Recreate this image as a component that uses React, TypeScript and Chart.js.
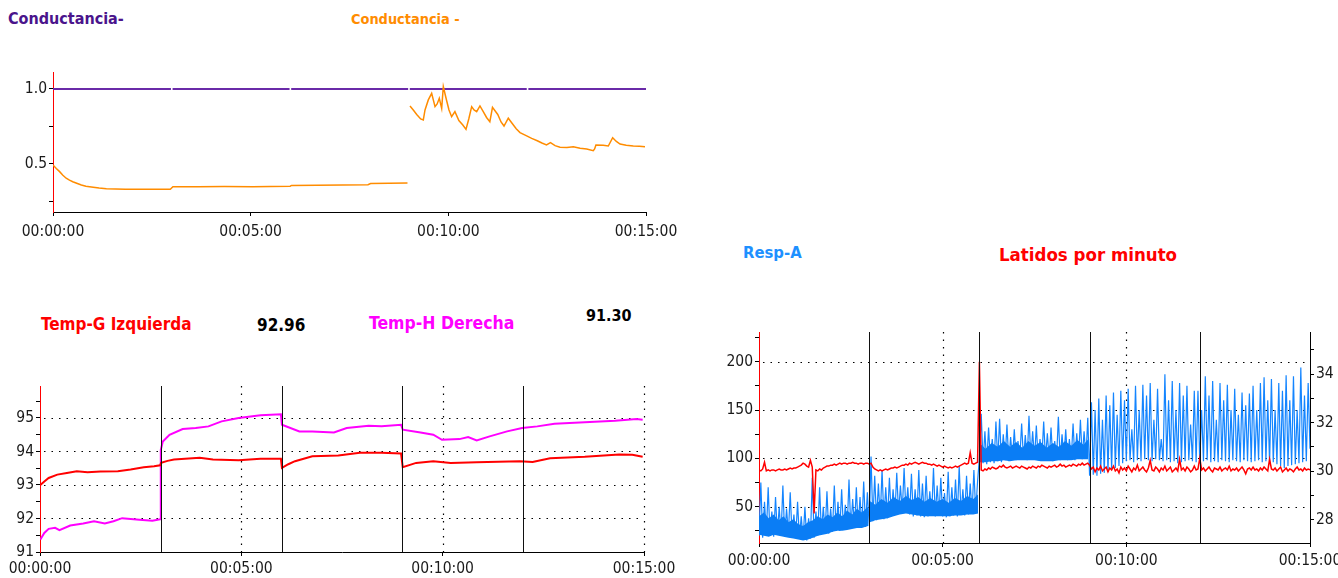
import React, { useEffect, useRef } from 'react';
import { Chart, registerables } from 'chart.js';

Chart.register(...registerables);

// ---------------- DATA ----------------
// shared time axis (seconds)
const timeTicks = [0, 300, 600, 900];

// Panel 1 – Conductancia
const condPurple: [number, number | null][] = [
  [0, 1], [179, 1], [180, null], [181.5, 1], [359, 1], [360, null], [361.5, 1],
  [539, 1], [540, null], [541.5, 1], [719, 1], [720, null], [721.5, 1], [900, 1],
];
const condOrange: [number, number | null][] = [
  [0, 0.493], [5, 0.47], [10, 0.449], [15, 0.425], [20, 0.405], [25, 0.392], [30, 0.382],
  [37, 0.37], [43, 0.36], [50, 0.352], [61, 0.345], [70, 0.34], [81, 0.335], [95, 0.333],
  [110, 0.331], [127, 0.331], [150, 0.331], [178, 0.332], [182, 0.349], [220, 0.349],
  [260, 0.35], [303, 0.349], [330, 0.35], [360, 0.352], [362, 0.357], [400, 0.358],
  [440, 0.36], [478, 0.362], [482, 0.37], [510, 0.372], [538, 0.373],
  [540, null],
  [541.8, 0.887], [546.8, 0.86], [552, 0.83], [558, 0.8], [562, 0.793], [564.6, 0.86],
  [569.6, 0.927], [574.7, 0.971], [579.8, 0.882], [583, 0.9], [586.3, 0.938], [589.9, 0.871],
  [592.4, 1.015], [597, 0.93], [601, 0.86], [605, 0.815], [610, 0.849], [616, 0.79],
  [622, 0.76], [626.8, 0.731], [631, 0.8], [635.4, 0.882], [639, 0.86], [643, 0.849],
  [648, 0.887], [653, 0.849], [658, 0.81], [663, 0.782], [667, 0.878], [675, 0.83],
  [680, 0.78], [684.5, 0.753], [691, 0.805], [697, 0.77], [703, 0.735], [708.8, 0.709],
  [718.9, 0.687], [726.5, 0.671], [735, 0.655], [742, 0.64], [749, 0.627], [755, 0.642],
  [762, 0.622], [769.5, 0.611], [780, 0.61], [789.7, 0.615], [800, 0.605], [810, 0.6],
  [820, 0.589], [822, 0.6], [824, 0.627], [835, 0.625], [842.8, 0.62], [849.4, 0.675],
  [855, 0.65], [860.6, 0.633], [870, 0.625], [880.7, 0.62], [890, 0.618], [898.5, 0.615],
];
const condYTicks = [0.25, 0.5, 0.75, 1.0];
const condYLabels = [0.5, 1.0];

// Panel 2 – Temperaturas
const tempG: [number, number][] = [
  [0, 92.99], [6, 93.1], [12.9, 93.21], [25.8, 93.31], [40, 93.36], [54.8, 93.41],
  [70.9, 93.38], [90, 93.4], [116, 93.41], [135, 93.46], [154.6, 93.53], [170, 93.56],
  [179, 93.59], [180.5, 93.66], [190, 93.72], [199.7, 93.76], [238, 93.81], [257.7, 93.76],
  [296, 93.74], [328.6, 93.78], [359, 93.78], [360.5, 93.51], [370, 93.62], [380, 93.71],
  [405.8, 93.86], [444.5, 93.88], [476.7, 93.96], [509, 93.96], [538, 93.94], [540.5, 93.53],
  [560.5, 93.66], [586, 93.71], [612, 93.66], [650.7, 93.68], [715, 93.71], [734, 93.69],
  [760, 93.8], [811.7, 93.84], [863, 93.91], [882.6, 93.9], [898, 93.84],
];
const tempH: [number, number][] = [
  [0.5, 91.37], [6.4, 91.57], [12.9, 91.69], [22.5, 91.72], [29, 91.65], [45, 91.79],
  [64.4, 91.85], [80.5, 91.92], [96.6, 91.85], [109.5, 91.92], [122.4, 92.01], [148, 91.96],
  [167.5, 91.93], [179, 91.98], [180, 94.05], [183, 94.3], [193, 94.5], [212.6, 94.67],
  [232, 94.7], [251, 94.75], [270.6, 94.9], [296, 95.0], [328.6, 95.08], [359, 95.11],
  [360.5, 94.8], [386.5, 94.6], [405.8, 94.6], [438, 94.57], [457, 94.7], [489.7, 94.77],
  [509, 94.75], [538, 94.8], [540.5, 94.65], [567, 94.57], [586, 94.5], [599, 94.35],
  [625, 94.37], [638, 94.43], [650.7, 94.33], [670, 94.45], [696, 94.6], [718.5, 94.7],
  [741, 94.75], [766.6, 94.83], [811.7, 94.87], [857, 94.92], [889, 94.97], [898, 94.95],
];
const tempYTicks = [91, 91.5, 92, 92.5, 93, 93.5, 94, 94.5, 95, 95.5];
const tempYLabels = [91, 92, 93, 94, 95];

// Panel 3 – Resp-A / Latidos por minuto (one sample every 3 s)
const SAMPLE_STEP = 3;
const respValues = [
  20, 75, 18, 55, 22, 70, 20, 45, 19, 60,
  21, 50, 20, 72, 19, 48, 22, 65, 20, 42,
  18, 55, 17, 40, 16, 50, 15, 38, 17, 80,
  18, 45, 20, 70, 22, 50, 23, 66, 22, 48,
  24, 72, 25, 55, 25, 68, 26, 52, 27, 78,
  27, 58, 28, 70, 28, 60, 29, 76, 29, 65,
  30, 102, 35, 82, 36, 74, 38, 88, 37, 70,
  38, 80, 40, 68, 42, 85, 43, 72, 45, 90,
  44, 70, 42, 84, 40, 68, 41, 88, 40, 74,
  39, 82, 40, 66, 41, 90, 40, 72, 41, 80,
  40, 64, 39, 86, 40, 70, 41, 78, 40, 92,
  42, 68, 41, 82, 42, 74, 43, 88, 44, 76,
  100, 146, 95, 128, 94, 132, 96, 120, 95, 138,
  97, 141, 96, 125, 98, 135, 97, 122, 99, 130,
  98, 118, 100, 136, 99, 124, 98, 144, 100, 128,
  99, 134, 98, 120, 100, 138, 99, 126, 98, 132,
  97, 118, 99, 143, 98, 125, 99, 130, 98, 120,
  99, 136, 98, 126, 100, 140, 99, 128, 100, 142,
  82, 158, 83, 150, 82, 162, 84, 140, 85, 165,
  86, 155, 88, 168, 90, 145, 92, 170, 95, 160,
  97, 172, 98, 130, 96, 175, 98, 150, 97, 176,
  99, 165, 98, 178, 97, 140, 99, 172, 98, 120,
  97, 187, 98, 160, 96, 180, 97, 150, 95, 178,
  96, 165, 97, 175, 98, 135, 97, 170, 96, 170,
  95, 150, 97, 185, 98, 165, 96, 180, 97, 140,
  96, 178, 98, 160, 97, 176, 96, 150, 98, 172,
  97, 145, 96, 168, 98, 155, 97, 167, 96, 175,
  97, 150, 98, 178, 96, 184, 97, 160, 95, 182,
  96, 150, 94, 178, 92, 170, 90, 186, 92, 160,
  93, 185, 94, 150, 95, 194, 96, 165, 97, 178,
  110,
];
// dense part of the respiration trace: [time s, lower edge, upper edge of the solid band]
const respBand1: [number, number, number][] = [
  [0, 21, 40], [8, 20, 44], [16, 19, 38], [24, 21, 42], [32, 20, 36], [40, 19, 40],
  [48, 18, 34], [56, 17, 37], [64, 16, 32], [72, 15, 30], [80, 16, 34], [88, 18, 36],
  [96, 20, 40], [104, 21, 37], [112, 22, 42], [120, 24, 39], [128, 25, 44], [136, 25, 40],
  [144, 26, 46], [152, 27, 42], [160, 28, 48], [168, 28, 44], [178, 30, 50],
];
const respBand2: [number, number, number][] = [
  [181, 34, 56], [190, 36, 52], [200, 37, 58], [210, 38, 54], [220, 40, 60], [230, 42, 56],
  [240, 43, 61], [250, 42, 57], [260, 41, 60], [270, 40, 55], [280, 40, 59], [290, 40, 55],
  [300, 40, 58], [310, 40, 54], [320, 41, 59], [330, 41, 56], [340, 42, 61], [350, 42, 58],
  [358, 43, 63],
];
const respBand3: [number, number, number][] = [
  [361, 96, 115], [370, 96, 110], [380, 97, 116], [390, 97, 112], [400, 98, 118], [410, 97, 112],
  [420, 98, 117], [430, 98, 111], [440, 98, 118], [450, 98, 113], [460, 97, 117], [470, 97, 111],
  [480, 97, 116], [490, 98, 112], [500, 98, 118], [510, 98, 113], [520, 99, 119], [530, 99, 114],
  [538, 99, 120],
];
const hrValues = [
  88, 87, 89, 96, 87, 88, 87, 88, 88, 87,
  88, 89, 88, 88, 89, 88, 89, 90, 89, 90,
  90, 91, 92, 93, 95, 94, 92, 91, 98, 91,
  43, 88, 87, 89, 88, 90, 91, 92, 92, 93,
  93, 94, 93, 94, 95, 94, 95, 95, 94, 95,
  95, 96, 95, 95, 94, 95, 95, 94, 95, 95,
  94, 95, 91, 89, 88, 87, 88, 87, 88, 89,
  88, 89, 90, 90, 91, 90, 91, 92, 93, 93,
  94, 93, 95, 94, 95, 96, 95, 94, 95, 96,
  95, 95, 94, 94, 93, 94, 93, 92, 93, 92,
  91, 92, 91, 90, 91, 90, 91, 92, 91, 92,
  93, 94, 95, 94, 95, 106, 95, 94, 95, 96,
  200, 88, 87, 89, 88, 90, 89, 91, 90, 89,
  90, 92, 91, 93, 91, 90, 91, 92, 90, 91,
  92, 91, 90, 92, 91, 90, 89, 91, 90, 92,
  91, 90, 92, 91, 93, 92, 91, 90, 92, 91,
  92, 93, 91, 92, 94, 92, 93, 91, 92, 93,
  92, 94, 93, 92, 94, 93, 95, 93, 94, 95,
  93, 89, 91, 86, 90, 88, 92, 87, 89, 91,
  86, 90, 88, 92, 87, 89, 85, 91, 88, 90,
  87, 92, 89, 86, 90, 88, 93, 87, 89, 91,
  88, 86, 90, 98, 88, 87, 91, 89, 86, 90,
  88, 92, 87, 89, 91, 86, 88, 90, 87, 99,
  88, 90, 87, 91, 89, 86, 88, 92, 88, 89,
  100, 88, 90, 87, 89, 91, 88, 86, 90, 89,
  88, 91, 87, 89, 90, 88, 92, 87, 89, 88,
  90, 87, 89, 91, 88, 84, 89, 90, 88, 91,
  88, 89, 87, 90, 88, 91, 89, 87, 99, 89,
  88, 90, 87, 89, 91, 86, 88, 90, 87, 89,
  88, 86, 89, 91, 88, 89, 87, 90, 88, 89,
  88,
];
const respYTicks = [25, 50, 75, 100, 125, 150, 175, 200, 225];
const respYLabels = [50, 100, 150, 200];
const rightYTicks = [28, 29, 30, 31, 32, 33, 34, 35];
const rightYLabels = [28, 30, 32, 34];

// event markers (solid lines)
const eventTimes = [180, 360, 540, 720];

// ---------------- HELPERS ----------------
const TICK_FONT = {
  family: "'Liberation Sans Narrow', 'Arial Narrow', 'DejaVu Sans Condensed', sans-serif",
  size: 15.5,
};
const RESP_BLUE = '#1485ff';
const pad2 = (n: number) => String(n).padStart(2, '0');
const fmtTime = (s: number) => {
  const h = Math.floor(s / 3600);
  const m = Math.floor((s % 3600) / 60);
  const sec = Math.round(s % 60);
  return `${pad2(h)}:${pad2(m)}:${pad2(sec)}`;
};
const toXY = (pairs: [number, number | null][]) => pairs.map(([x, y]) => ({ x, y }));
const seriesXY = (vals: number[]) => vals.map((y, i) => ({ x: i * SAMPLE_STEP, y }));

function bandDatasets(band: [number, number, number][]) {
  return [
    { data: band.map(([t, lo]) => ({ x: t, y: lo })), borderWidth: 0, borderColor: 'rgba(0,0,0,0)', fill: false, yAxisID: 'y' },
    { data: band.map(([t, , hi]) => ({ x: t, y: hi })), borderWidth: 0, borderColor: 'rgba(0,0,0,0)', fill: '-1', backgroundColor: '#0a7df5', yAxisID: 'y' },
  ];
}

function xAxis(height: number, labelPad: number) {
  return {
    type: 'linear',
    min: 0,
    max: 900,
    afterBuildTicks: (s: any) => {
      s.ticks = timeTicks.map((v) => ({ value: v }));
    },
    afterFit: (s: any) => {
      s.height = height;
      s.paddingLeft = 0;
      s.paddingRight = 0;
    },
    ticks: {
      callback: (v: any) => fmtTime(Number(v)),
      font: TICK_FONT,
      color: '#1a1a1a',
      padding: labelPad,
      maxRotation: 0,
      autoSkip: false,
    },
    grid: { drawOnChartArea: false, drawTicks: true, tickLength: 4, tickColor: '#000', tickWidth: 1 },
    border: { display: true, color: '#000', width: 1 },
  };
}

function yAxis(o: {
  position: 'left' | 'right';
  min: number;
  max: number;
  ticks: number[];
  labels: number[];
  digits: number;
  width: number;
  borderColor: string;
}) {
  return {
    type: 'linear',
    position: o.position,
    min: o.min,
    max: o.max,
    afterBuildTicks: (s: any) => {
      s.ticks = o.ticks.map((v) => ({ value: v }));
    },
    afterFit: (s: any) => {
      s.width = o.width;
      s.paddingTop = 0;
      s.paddingBottom = 0;
    },
    ticks: {
      callback: (v: any) => (o.labels.includes(Number(v)) ? Number(v).toFixed(o.digits) : ''),
      font: TICK_FONT,
      color: '#1a1a1a',
      padding: 2,
      autoSkip: false,
    },
    grid: { drawOnChartArea: false, drawTicks: true, tickLength: 4, tickColor: '#000', tickWidth: 1 },
    border: { display: true, color: o.borderColor, width: 1 },
  };
}

function overlayPlugin(cfg: { yId: string; hDotted: number[]; vDotted: number[]; vSolid: number[] }) {
  return {
    id: 'overlay',
    beforeDatasetsDraw(chart: any) {
      const { ctx, chartArea: a, scales } = chart;
      const xs = scales.x;
      const ys = scales[cfg.yId];
      ctx.save();
      ctx.strokeStyle = '#000';
      ctx.lineWidth = 1.2;
      ctx.setLineDash([1.5, 6]);
      cfg.hDotted.forEach((v) => {
        const py = Math.round(ys.getPixelForValue(v)) + 0.5;
        ctx.beginPath();
        ctx.moveTo(a.left + 4, py);
        ctx.lineTo(a.right, py);
        ctx.stroke();
      });
      cfg.vDotted.forEach((v) => {
        const px = Math.round(xs.getPixelForValue(v)) + 0.5;
        ctx.beginPath();
        ctx.moveTo(px, a.top);
        ctx.lineTo(px, a.bottom);
        ctx.stroke();
      });
      ctx.restore();
    },
    afterDatasetsDraw(chart: any) {
      const { ctx, chartArea: a, scales } = chart;
      const xs = scales.x;
      ctx.save();
      ctx.strokeStyle = '#111';
      ctx.lineWidth = 1;
      cfg.vSolid.forEach((v) => {
        const px = Math.round(xs.getPixelForValue(v)) + 0.5;
        ctx.beginPath();
        ctx.moveTo(px, a.top);
        ctx.lineTo(px, a.bottom);
        ctx.stroke();
      });
      ctx.restore();
    },
  };
}

const baseOptions = (padding: any) => ({
  responsive: false,
  maintainAspectRatio: false,
  animation: false,
  devicePixelRatio: 1,
  events: [],
  layout: { padding },
  plugins: { legend: { display: false }, tooltip: { enabled: false } },
  elements: { point: { radius: 0 }, line: { tension: 0 } },
});

// ---------------- CHART CONFIGS ----------------
function buildConductancia() {
  return {
    type: 'line',
    data: {
      datasets: [
        { data: toXY(condOrange), borderColor: '#ff8c00', borderWidth: 1.5, spanGaps: false },
        { data: toXY(condPurple), borderColor: '#6a2aa8', borderWidth: 2, spanGaps: false },
      ],
    },
    options: {
      ...baseOptions({ top: 12, right: 54, bottom: 0, left: 0 }),
      scales: {
        x: xAxis(38, 7),
        y: yAxis({ position: 'left', min: 0.18, max: 1.113, ticks: condYTicks, labels: condYLabels, digits: 1, width: 53, borderColor: '#ff0000' }),
      },
    },
  };
}

function buildTemperaturas() {
  return {
    type: 'line',
    data: {
      datasets: [
        { data: toXY(tempG), borderColor: '#ff0000', borderWidth: 2 },
        { data: toXY(tempH), borderColor: '#ff00ff', borderWidth: 2 },
      ],
    },
    options: {
      ...baseOptions({ top: 16, right: 56, bottom: 0, left: 0 }),
      scales: {
        x: xAxis(26, 4),
        y: yAxis({ position: 'left', min: 91, max: 95.955, ticks: tempYTicks, labels: tempYLabels, digits: 0, width: 40, borderColor: '#ff0000' }),
      },
    },
    plugins: [overlayPlugin({ yId: 'y', hDotted: [92, 93, 94, 95], vDotted: [300, 600, 900], vSolid: eventTimes })],
  };
}

function buildResp() {
  return {
    type: 'line',
    data: {
      datasets: [
        { data: seriesXY(hrValues), borderColor: '#ff0000', borderWidth: 1.5, yAxisID: 'y' },
        ...bandDatasets(respBand1),
        ...bandDatasets(respBand2),
        ...bandDatasets(respBand3),
        { data: seriesXY(respValues), borderColor: RESP_BLUE, borderWidth: 1.2, yAxisID: 'y' },
      ],
    },
    options: {
      ...baseOptions({ top: 12, right: 0, bottom: 0, left: 0 }),
      scales: {
        x: xAxis(35, 5),
        y: yAxis({ position: 'left', min: 12.45, max: 230.7, ticks: respYTicks, labels: respYLabels, digits: 0, width: 59, borderColor: '#ff0000' }),
        y2: yAxis({ position: 'right', min: 27.05, max: 35.73, ticks: rightYTicks, labels: rightYLabels, digits: 0, width: 28, borderColor: '#000' }),
      },
    },
    plugins: [overlayPlugin({ yId: 'y', hDotted: [50, 100, 150, 200], vDotted: [300, 600], vSolid: eventTimes })],
  };
}

// ---------------- COMPONENTS ----------------
function Panel(props: { left: number; top: number; width: number; height: number; build: () => any }) {
  const ref = useRef<HTMLCanvasElement>(null);
  useEffect(() => {
    const chart = new Chart(ref.current as HTMLCanvasElement, props.build());
    return () => chart.destroy();
  }, []);
  return (
    <canvas
      ref={ref}
      width={props.width}
      height={props.height}
      style={{ position: 'absolute', left: props.left, top: props.top, width: props.width, height: props.height }}
    />
  );
}

const titleItems = [
  { text: 'Conductancia-', color: '#4a148c', left: 8, top: 11, size: 16 },
  { text: 'Conductancia - ', color: '#ff8c00', left: 351, top: 12, size: 14.4 },
  { text: 'Temp-G Izquierda', color: '#ff0000', left: 41, top: 316, size: 17 },
  { text: '92.96', color: '#000000', left: 257, top: 317, size: 17 },
  { text: 'Temp-H Derecha', color: '#ff00ff', left: 369, top: 315, size: 17.5 },
  { text: '91.30', color: '#000000', left: 586, top: 308, size: 16 },
  { text: 'Resp-A', color: '#1e90ff', left: 743, top: 245, size: 16.5 },
  { text: 'Latidos por minuto', color: '#ff0000', left: 999, top: 245.5, size: 18.5 },
];

export default function App() {
  return (
    <div style={{ position: 'absolute', left: 0, top: 0, width: 1338, height: 578, background: '#fff', overflow: 'hidden' }}>
      <Panel left={0} top={60} width={700} height={190} build={buildConductancia} />
      <Panel left={0} top={370} width={700} height={208} build={buildTemperaturas} />
      <Panel left={700} top={320} width={638} height={258} build={buildResp} />
      {titleItems.map((t) => (
        <div
          key={t.text + t.left}
          style={{
            position: 'absolute',
            left: t.left,
            top: t.top,
            color: t.color,
            fontFamily: "'DejaVu Sans Condensed', 'DejaVu Sans', sans-serif",
            fontStretch: 'condensed',
            fontWeight: 'bold',
            fontSize: t.size,
            lineHeight: `${t.size}px`,
            whiteSpace: 'pre',
          }}
        >
          {t.text}
        </div>
      ))}
    </div>
  );
}
